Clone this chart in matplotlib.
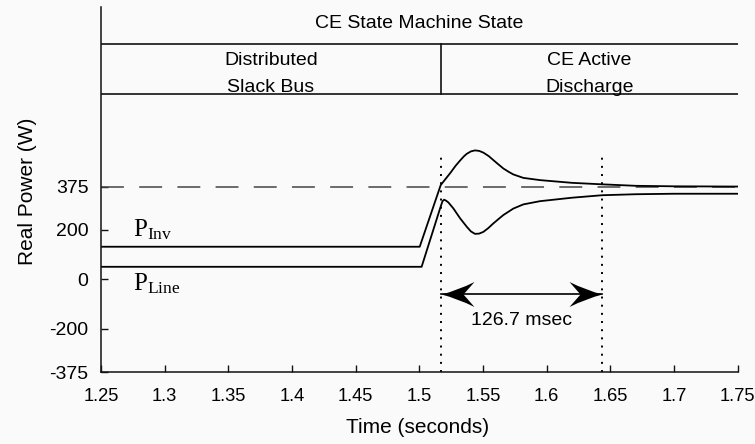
import matplotlib
matplotlib.use("Agg")
import matplotlib.pyplot as plt
from matplotlib.path import Path
from matplotlib.markers import MarkerStyle
from matplotlib.transforms import Affine2D

plt.rcParams["font.family"] = ["Liberation Sans", "DejaVu Sans"]
plt.rcParams["mathtext.fontset"] = "custom"
plt.rcParams["mathtext.rm"] = "Liberation Serif"
plt.rcParams["mathtext.it"] = "Liberation Serif:italic"

# Inverter real power (W) over time (s)
t_inv = [1.25, 1.5003, 1.5168, 1.5245, 1.5285, 1.532, 1.535, 1.5372, 1.5405,
         1.5437, 1.547, 1.5503, 1.5545, 1.5581, 1.562, 1.566, 1.570, 1.5738,
         1.5817, 1.5948, 1.62, 1.6436, 1.67, 1.70, 1.75]
p_inv = [132, 132, 381, 431, 459, 480, 497, 507, 517,
         521, 519, 512, 498, 482, 465, 448, 435, 424,
         410, 401, 390, 384, 378, 376, 375]

# Line real power (W) over time (s)
t_line = [1.25, 1.5018, 1.5165, 1.5182, 1.5195, 1.521, 1.5228, 1.5267, 1.532,
          1.5372, 1.5405, 1.5437, 1.547, 1.5503, 1.5541, 1.5581, 1.562, 1.566,
          1.5738, 1.5817, 1.5948, 1.62, 1.6436, 1.67, 1.70, 1.75]
p_line = [51, 51, 290, 316, 322, 318, 311, 287, 247,
          213, 194, 184, 185, 192, 207, 226, 243, 260,
          286, 303, 316, 330, 340, 344, 346, 346]

p_ref = 375
t_state_change = 1.517
t_settled = 1.6437
settle_label = "126.7 msec"

x_ticks = [1.25, 1.3, 1.35, 1.4, 1.45, 1.5, 1.55, 1.6, 1.65, 1.7, 1.75]
x_tick_labels = ["1.25", "1.3", "1.35", "1.4", "1.45", "1.5", "1.55", "1.6",
                 "1.65", "1.7", "1.75"]
y_ticks = [-375, -200, 0, 200, 375]
y_tick_labels = ["-375", "-200", "0", "200", "375"]

state_title = "CE State Machine State"
state_left = ["Distributed", "Slack Bus"]
state_right = ["CE Active", "Discharge"]

fig = plt.figure(figsize=(7.55, 4.44), dpi=100, facecolor="#fafafa")
ax = fig.add_axes([0.1338, 0.1615, 0.8432, 0.8227], facecolor="#fafafa")
ax.set_xlim(1.25, 1.75)
ax.set_ylim(-375, 1100)

for side in ("top", "right"):
    ax.spines[side].set_visible(False)
for side in ("left", "bottom"):
    ax.spines[side].set_linewidth(1.1)
    ax.spines[side].set_color("#111111")

ax.set_xticks(x_ticks, x_tick_labels)
ax.set_yticks(y_ticks, y_tick_labels)
ax.tick_params(axis="both", direction="in", length=4.8, width=1.0,
               labelsize=14, color="#111111")
ax.tick_params(axis="x", pad=11, labelsize=13.2)
ax.tick_params(axis="y", pad=9)

ax.set_xlabel("Time (seconds)", fontsize=15)
ax.xaxis.set_label_coords(0.4967, -0.126)
ax.set_ylabel("Real Power (W)", fontsize=15)
ax.yaxis.set_label_coords(-0.101, 0.4963)

# reference power level
ax.axhline(p_ref, color="#444444", lw=1.1, dashes=(15, 10))

# power traces
ax.plot(t_inv, p_inv, color="black", lw=1.3, solid_joinstyle="round")
ax.plot(t_line, p_line, color="black", lw=1.3, solid_joinstyle="round")

ax.text(1.2751, 175, r"$\mathrm{P}_{\mathrm{Inv}}$", fontsize=18, ha="left",
        va="baseline")
ax.text(1.2751, -43, r"$\mathrm{P}_{\mathrm{Line}}$", fontsize=18, ha="left",
        va="baseline")

# settling-time markers
for t in (t_state_change, t_settled):
    ax.plot([t, t], [-375, 500], color="black", lw=1.4, dashes=(1, 3.2),
            dash_capstyle="butt")

arrow_y = -57
ax.plot([t_state_change, t_settled], [arrow_y, arrow_y], color="black", lw=1.2)
head = Path([(0, 0), (-16, 4), (-33, 12.5), (-22, 0), (-33, -12.5), (-16, -4), (0, 0)],
            [Path.MOVETO, Path.CURVE3, Path.CURVE3, Path.LINETO, Path.LINETO,
             Path.CURVE3, Path.CURVE3])
right_head = MarkerStyle(head)
left_head = MarkerStyle(head, transform=Affine2D().rotate_deg(180))
ax.plot([t_settled], [arrow_y], marker=right_head, ms=47.5, color="black", mew=0)
ax.plot([t_state_change], [arrow_y], marker=left_head, ms=47.5, color="black", mew=0)
ax.text((t_state_change + t_settled) / 2, -185, settle_label, fontsize=14,
        ha="center", va="baseline")

# state machine table
ax.axhline(952, color="#111111", lw=1.2)
ax.axhline(749, color="#111111", lw=1.2)
ax.plot([t_state_change, t_state_change], [749, 952], color="#111111", lw=1.2)
ax.text(1.5, 1015, state_title, fontsize=14, ha="center", va="baseline")
ax.text((1.25 + t_state_change) / 2, 866, state_left[0], fontsize=14,
        ha="center", va="baseline")
ax.text((1.25 + t_state_change) / 2, 758, state_left[1], fontsize=14,
        ha="center", va="baseline")
ax.text((t_state_change + 1.75) / 2, 866, state_right[0], fontsize=14,
        ha="center", va="baseline")
ax.text((t_state_change + 1.75) / 2, 758, state_right[1], fontsize=14,
        ha="center", va="baseline")

fig.savefig("out.png", dpi=100, facecolor=fig.get_facecolor())
